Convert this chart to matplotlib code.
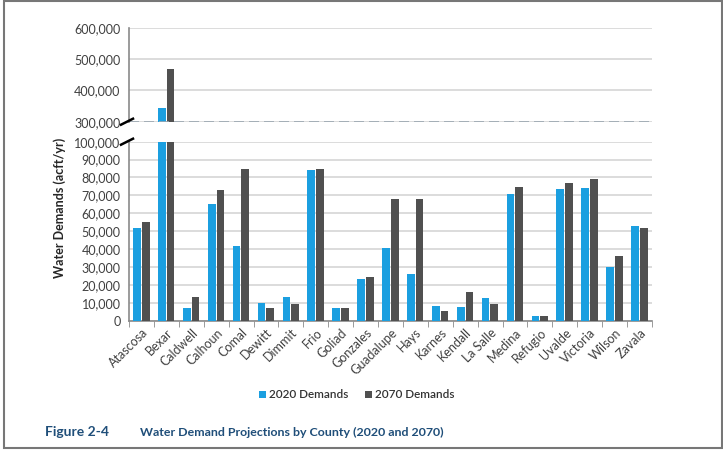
import numpy as np
import matplotlib
matplotlib.use("Agg")
import matplotlib.pyplot as plt
from matplotlib.lines import Line2D
from matplotlib.patches import Rectangle
from matplotlib.ticker import FuncFormatter, MultipleLocator

plt.rcParams["font.family"] = ["Lato", "DejaVu Sans"]

counties = ["Atascosa", "Bexar", "Caldwell", "Calhoun", "Comal", "Dewitt", "Dimmit",
            "Frio", "Goliad", "Gonzales", "Guadalupe", "Hays", "Karnes", "Kendall",
            "La Salle", "Medina", "Refugio", "Uvalde", "Victoria", "Wilson", "Zavala"]
demand_2020 = [52000, 343000, 7300, 65000, 42000, 10000, 13400,
               84200, 6900, 23100, 40800, 26100, 8200, 7600,
               12500, 70800, 2600, 73600, 74300, 30200, 53100]
demand_2070 = [55000, 468000, 13400, 73000, 84700, 7100, 9300,
               84700, 7300, 24400, 67800, 68200, 5600, 16200,
               9300, 74700, 2600, 76900, 79100, 36100, 52000]

BLUE = "#1b9fe0"
GRAY = "#505050"
GRID = "#d6d6d6"
SPINE = "#8a8a8a"
CAPTION = "#1f4e79"

W, H = 723, 451
fig = plt.figure(figsize=(W / 100, H / 100), dpi=100)

left, right = 129 / W, 652 / W
ax_top = fig.add_axes([left, 1 - 121.7 / H, right - left, (121.7 - 28) / H])
ax_bot = fig.add_axes([left, 1 - 320.7 / H, right - left, (320.7 - 141.7) / H])

x = np.arange(len(counties))
bw = 0.31
for ax in (ax_top, ax_bot):
    ax.bar(x - 0.18, demand_2020, bw, color=BLUE, zorder=3, label="2020 Demands")
    ax.bar(x + 0.17, demand_2070, bw, color=GRAY, zorder=3, label="2070 Demands")
    ax.set_xlim(-0.5, len(counties) - 0.5)
    ax.grid(axis="y", color=GRID, lw=1.2, zorder=0)
    for s in ("top", "right"):
        ax.spines[s].set_visible(False)
    ax.spines["left"].set_color(SPINE)
    ax.spines["left"].set_linewidth(1.2)
    ax.tick_params(axis="y", length=0, labelsize=9, colors="#404040", pad=6)
    ax.yaxis.set_major_formatter(FuncFormatter(lambda v, p: f"{int(v):,}"))

ax_top.set_ylim(300000, 600000)
ax_top.yaxis.set_major_locator(MultipleLocator(100000))
ax_top.spines["bottom"].set_visible(False)
ax_top.set_xticks([])
ax_top.axhline(300000, color="#9aa7b0", lw=1.2, ls=(0, (6, 3)), zorder=4)

ax_bot.set_ylim(0, 100000)
ax_bot.yaxis.set_major_locator(MultipleLocator(10000))
ax_bot.spines["bottom"].set_color(SPINE)
ax_bot.spines["bottom"].set_linewidth(1.2)
ax_bot.set_xticks(x)
ax_bot.set_xticklabels(counties, rotation=45, ha="right", rotation_mode="anchor",
                       fontsize=9, color="#404040")
ax_bot.tick_params(axis="x", which="major", length=0, pad=4)
ax_bot.set_xticks(np.arange(-0.5, len(counties)), minor=True)
ax_bot.tick_params(axis="x", which="minor", length=4, color=SPINE)
ax_bot.set_ylabel("Water Demands (acft/yr)", fontsize=9, fontweight="bold",
                  color="#262626")
ax_bot.yaxis.set_label_coords(-0.12, 0.63)

# axis break marks
for yb in (121.7, 141.7):
    fig.add_artist(Line2D([121 / W, 133 / W], [1 - (yb + 3) / H, 1 - (yb - 3) / H],
                          color="black", lw=1.8))

h, l = ax_bot.get_legend_handles_labels()
leg = fig.legend(h, l, loc="center", bbox_to_anchor=(0.494, 1 - 395 / H), ncol=2,
                 frameon=False, fontsize=8.5, handlelength=0.55, handleheight=0.55,
                 handletextpad=0.3, columnspacing=1.4)
for t in leg.get_texts():
    t.set_fontweight("semibold")
    t.set_color("#333333")

fig.text(45 / W, 1 - 432 / H, "Figure 2-4", fontsize=10, fontweight="bold",
         color=CAPTION, va="center")
fig.text(140 / W, 1 - 432 / H, "Water Demand Projections by County (2020 and 2070)",
         fontsize=8.9, fontweight="bold", color=CAPTION, va="center")

fig.add_artist(Rectangle((4 / W, 1 - 448 / H), 717.5 / W, 447 / H, fill=False,
                         edgecolor="#777777", lw=1.5))

fig.savefig("out.png", dpi=100)
